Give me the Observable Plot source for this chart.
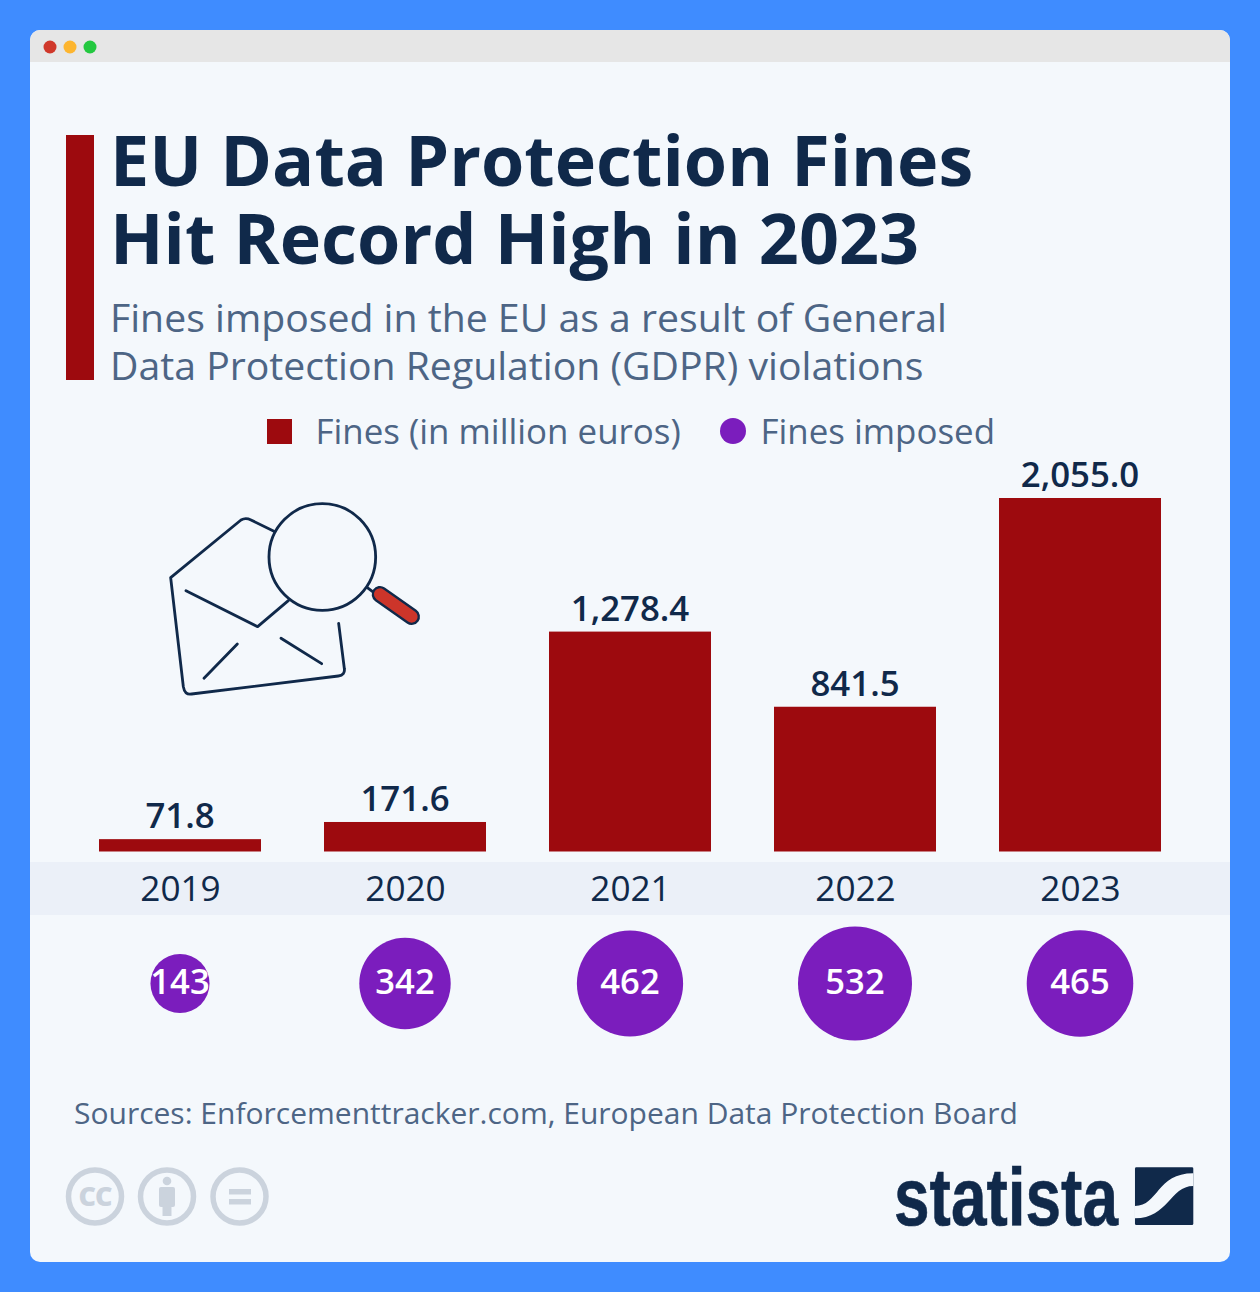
<!DOCTYPE html>
<html><head><meta charset="utf-8">
<script src="https://cdn.jsdelivr.net/npm/d3@7"></script>
<script src="https://cdn.jsdelivr.net/npm/@observablehq/plot@0.6"></script>
<style>
html,body{margin:0;padding:0;background:#3f8cff;}
body{position:relative;width:1260px;height:1292px;overflow:hidden;font-family:"Open Sans","Noto Sans",sans-serif;}
.abs{position:absolute;white-space:nowrap;}
#card{left:30px;top:30px;width:1200px;height:1232px;background:#f4f8fc;border-radius:10px;overflow:hidden;}
#titlebar{left:0;top:0;width:1200px;height:32px;background:#e6e6e6;}
#band{left:30px;top:862px;width:1200px;height:53px;background:#ebf0f8;}
#accent{left:66px;top:135px;width:28px;height:245px;background:#9d0a0e;}
.tl{left:110px;font-size:70px;font-weight:700;line-height:78px;color:#10294a;}
.sl{left:110px;font-size:39.2px;line-height:48px;color:#4d6585;}
.leg{top:407px;font-size:34.9px;line-height:48px;color:#4d6585;}
#sw1{left:267px;top:419px;width:25px;height:25px;background:#9d0a0e;}
#sw2{left:720px;top:418px;width:26px;height:26px;border-radius:50%;background:#7b1dbd;}
#source{left:74px;top:1093px;font-size:30px;line-height:40px;color:#4d6585;}
#chart{left:0;top:440px;}
#chart svg{overflow:visible;background:transparent;}
#deco{left:0;top:0;pointer-events:none;}
</style></head>
<body>
<div class="abs" id="card"><div class="abs" id="titlebar"></div></div>
<div class="abs" id="band"></div>
<div class="abs" id="accent"></div>
<div class="abs tl" style="top:119.5px">EU Data Protection Fines</div>
<div class="abs tl" style="top:197.5px">Hit Record High in 2023</div>
<div class="abs sl" style="top:292.5px">Fines imposed in the EU as a result of General</div>
<div class="abs sl" style="top:340.5px">Data Protection Regulation (GDPR) violations</div>
<div class="abs" id="sw1"></div><div class="abs leg" style="left:315.5px">Fines (in million euros)</div>
<div class="abs" id="sw2"></div><div class="abs leg" style="left:760.5px">Fines imposed</div>
<div class="abs" id="chart"></div>
<div class="abs" id="source">Sources: Enforcementtracker.com, European Data Protection Board</div>
<svg class="abs" id="deco" width="1260" height="1292" xmlns="http://www.w3.org/2000/svg">
  <circle cx="50" cy="47" r="6.5" fill="#d0382b"/><circle cx="70" cy="47" r="6.5" fill="#fdb52f"/><circle cx="90" cy="47" r="6.5" fill="#24c840"/>
  <g transform="translate(150,490) scale(0.3333)" fill="none" stroke="#10294a" stroke-width="8.5" stroke-linecap="round" stroke-linejoin="round">
    <path d="M375,125 L303,90 Q287,82 273,90 L62,263 L100,590 Q104,616 125,612 L565,558 Q586,555 583,535 L566,400"/>
    <path d="M108,302 L323,410 L415,332"/>
    <path d="M262,462 L162,565"/><path d="M393,445 L515,521"/>
    <circle cx="517" cy="201" r="160"/>
    <path d="M652,293 L668,305"/>
    <path d="M690,313 L785,380" stroke-width="50"/>
    <path d="M690,313 L785,380" stroke-width="36" stroke="#cc352a"/>
  </g>
  <g fill="none" stroke="#cbd3dd" stroke-width="5.5">
    <circle cx="95" cy="1196.5" r="26.5"/><circle cx="167" cy="1196.5" r="26.5"/><circle cx="239.5" cy="1196.5" r="26.5"/>
  </g>
  <g fill="#cbd3dd">
    <text x="95" y="1206" text-anchor="middle" font-family="Open Sans" font-weight="800" font-size="27" letter-spacing="-1">CC</text>
    <circle cx="167" cy="1181" r="4.3"/>
    <rect x="159" y="1187" width="16" height="20" rx="2"/><rect x="162.5" y="1200" width="9" height="16"/>
    <rect x="229" y="1189" width="22" height="5.5"/><rect x="229" y="1199" width="22" height="5.5"/>
  </g>
  <text x="894" y="1224.5" font-family="Liberation Sans Narrow, Liberation Sans" font-weight="700" font-size="82" fill="#10294a" stroke="#10294a" stroke-width="0.6" textLength="224" lengthAdjust="spacingAndGlyphs">statista</text>
  <g transform="translate(880,1150) scale(0.3333)">
    <rect x="765" y="52" width="175" height="173" rx="4" fill="#10294a"/>
    <path d="M765,168 C835,168 830,70 940,70 L940,108 C870,108 865,205 765,205 Z" fill="#f4f8fc"/>
  </g>
</svg>
<script>
const years = ["2019","2020","2021","2022","2023"];
const fines = [71.8,171.6,1278.4,841.5,2055.0];
const imposed = [143,342,462,532,465];
const rows = years.map((year,i)=>({year,fine:fines[i],count:imposed[i]}));
const fmt = d3.format(",.1f");
const dark = "#10294a";
const chart = Plot.plot({
  width:1260,height:640,
  marginLeft:67.5,marginRight:67.5,marginTop:58,marginBottom:228.5,
  style:{background:"transparent",fontFamily:'"Open Sans"',overflow:"visible"},
  x:{domain:years,paddingInner:0.278,paddingOuter:0.139,label:null},
  y:{domain:[0,2055],axis:null},
  r:{domain:[0,532],range:[0,57]},
  marks:[
    Plot.barY(rows,{x:"year",y:"fine",fill:"#9d0a0e"}),
    Plot.text(rows,{x:"year",y:"fine",text:d=>fmt(d.fine),lineAnchor:"bottom",dy:-11.5,dx:-0.5,fontSize:34.8,fontWeight:600,fill:dark}),
    Plot.axisX({anchor:"bottom",tickSize:0,tickPadding:24,fontSize:35.2,color:"#10294a",label:null,lineAnchor:"top"}),
    Plot.dot(rows,{x:"year",y:()=>0,r:"count",dy:131.5,dx:-0.5,fill:"#7b1dbd"}),
    Plot.text(rows,{x:"year",y:()=>0,text:d=>String(d.count),dy:131,dx:-0.5,fontSize:34.6,fontWeight:600,fill:"#fff"})
  ]
});
document.getElementById("chart").appendChild(chart);
</script>
</body></html>
